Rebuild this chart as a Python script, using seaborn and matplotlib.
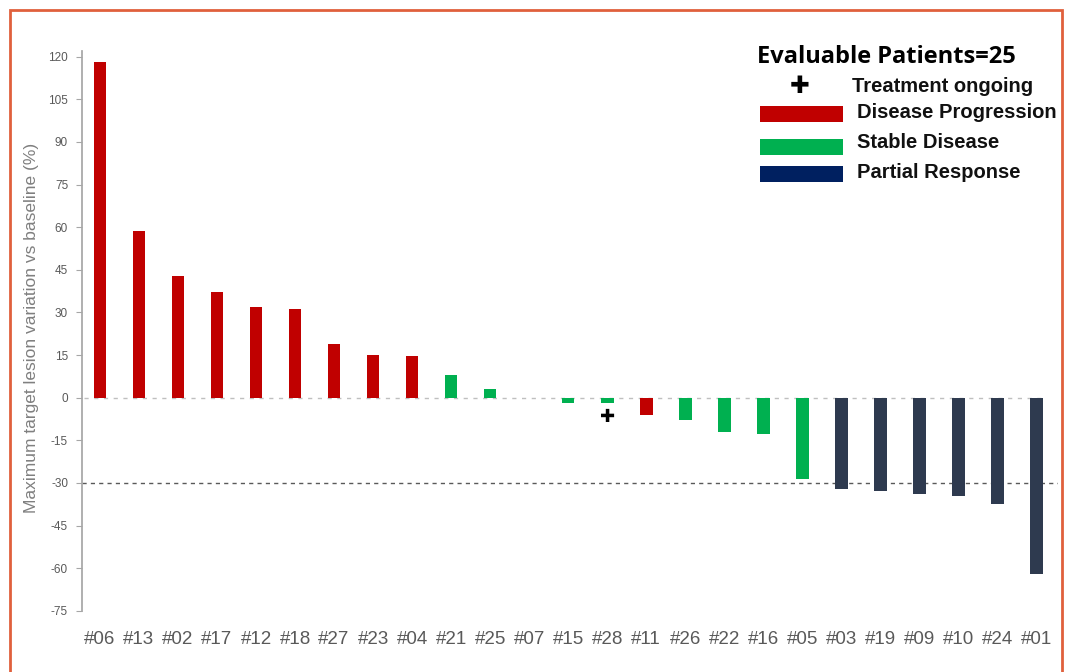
import pandas as pd
import matplotlib.pyplot as plt
import seaborn as sns
from matplotlib.patches import Rectangle

# Datos del gráfico
pacientes = ['#06', '#13', '#02', '#17', '#12', '#18', '#27', '#23', '#04', '#21', '#25', '#07',
             '#15', '#28', '#11', '#26', '#22', '#16', '#05', '#03', '#19', '#09', '#10', '#24', '#01']
variacion = [118.2, 58.8, 42.9, 37.3, 32.0, 31.3, 19.0, 15.1, 14.8, 8.1, 3.2, 0.0,
             -2.0, -2.0, -6.0, -8.0, -12.0, -12.7, -28.5, -32.0, -33.0, -34.0, -34.5, -37.3, -62.0]
respuesta = ['PD', 'PD', 'PD', 'PD', 'PD', 'PD', 'PD', 'PD', 'PD', 'SD', 'SD', 'SD',
             'SD', 'SD', 'PD', 'SD', 'SD', 'SD', 'SD', 'PR', 'PR', 'PR', 'PR', 'PR', 'PR']
en_curso = ['#28']
marca_en_curso = -6.7
yticks = list(range(-75, 121, 15))

colores = {'PD': '#C00000', 'SD': '#00B050', 'PR': '#2E3A4F'}
leyenda = [('Disease Progression', '#C00000'),
           ('Stable Disease', '#00B050'),
           ('Partial Response', '#002060')]

df = pd.DataFrame({'Paciente': pacientes, 'Variacion': variacion, 'Respuesta': respuesta})

sns.set_theme(style="white")
plt.rcParams['font.family'] = ['Liberation Sans', 'DejaVu Sans']

W, H = 1065, 672
fig = plt.figure(figsize=(W / 100, H / 100), dpi=100)
ax = fig.add_axes([82 / W, 1 - 625 / H, (1058 - 82) / W, (625 - 51) / H])

sns.barplot(data=df, x='Paciente', y='Variacion', hue='Respuesta', palette=colores,
            order=pacientes, dodge=False, width=0.32, legend=False, ax=ax,
            saturation=1, edgecolor='none')

# Líneas de referencia
ax.plot([-0.4, 24.2], [0, 0], color='#BFBFBF', linestyle=(0, (3, 4)), linewidth=1, zorder=0)
ax.axhline(-30, color='#595959', linestyle=(0, (3, 3)), linewidth=1, zorder=0)

# Marca de tratamiento en curso
for p in en_curso:
    ax.text(pacientes.index(p), marca_en_curso, '✚', ha='center', va='center',
            fontsize=13, color='black', family=['DejaVu Sans'])

ax.set_xlim(-0.46, 24.55)
ax.set_ylim(-80, 122)
ax.set_yticks(yticks)
ax.set_yticklabels([str(t) for t in yticks], fontsize=8.5, color='#595959')
ax.tick_params(axis='y', length=4, width=0.8, color='#A6A6A6', left=True, pad=6)
ax.tick_params(axis='x', length=0, pad=4)
for lbl in ax.get_xticklabels():
    lbl.set_fontsize(13.5)
    lbl.set_color('#595959')

for s in ['top', 'right', 'bottom']:
    ax.spines[s].set_visible(False)
ax.spines['left'].set_color('#A6A6A6')
ax.spines['left'].set_bounds(-75, 122)

ax.set_xlabel('')
ax.set_ylabel('Maximum target lesion variation vs baseline (%)', fontsize=12.5,
              color='#7F7F7F')
ax.yaxis.set_label_coords(-0.044, 0.517)

# Leyenda manual
def px(x, y):
    return x / W, 1 - y / H

fig.text(*px(757, 57), 'Evaluable Patients=25', fontsize=17, fontweight='bold',
         family=['Open Sans', 'DejaVu Sans'], va='center', ha='left', color='black')
fig.text(*px(800, 86), '✚', fontsize=17, va='center', ha='center', color='black',
         family=['DejaVu Sans'])
fig.text(*px(852, 87), 'Treatment ongoing', fontsize=14.5, fontweight='bold',
         va='center', ha='left', color='#111111')
for i, (nombre, col) in enumerate(leyenda):
    yc = [114, 147, 174][i]
    x0, y0 = px(760, yc + 8)
    fig.patches.append(Rectangle((x0, y0), 83 / W, 16 / H, transform=fig.transFigure,
                                 facecolor=col, edgecolor='none'))
    fig.text(*px(857, [113, 143, 172][i]), nombre, fontsize=14.5, fontweight='bold',
             va='center', ha='left', color='#111111')

# Marco exterior
fig.patches.append(Rectangle((10 / W, -0.01), (1062 - 10) / W, 1 - 10 / H + 0.01,
                             transform=fig.transFigure, fill=False,
                             edgecolor='#E0603C', linewidth=2))

fig.savefig('out.png', dpi=100)
